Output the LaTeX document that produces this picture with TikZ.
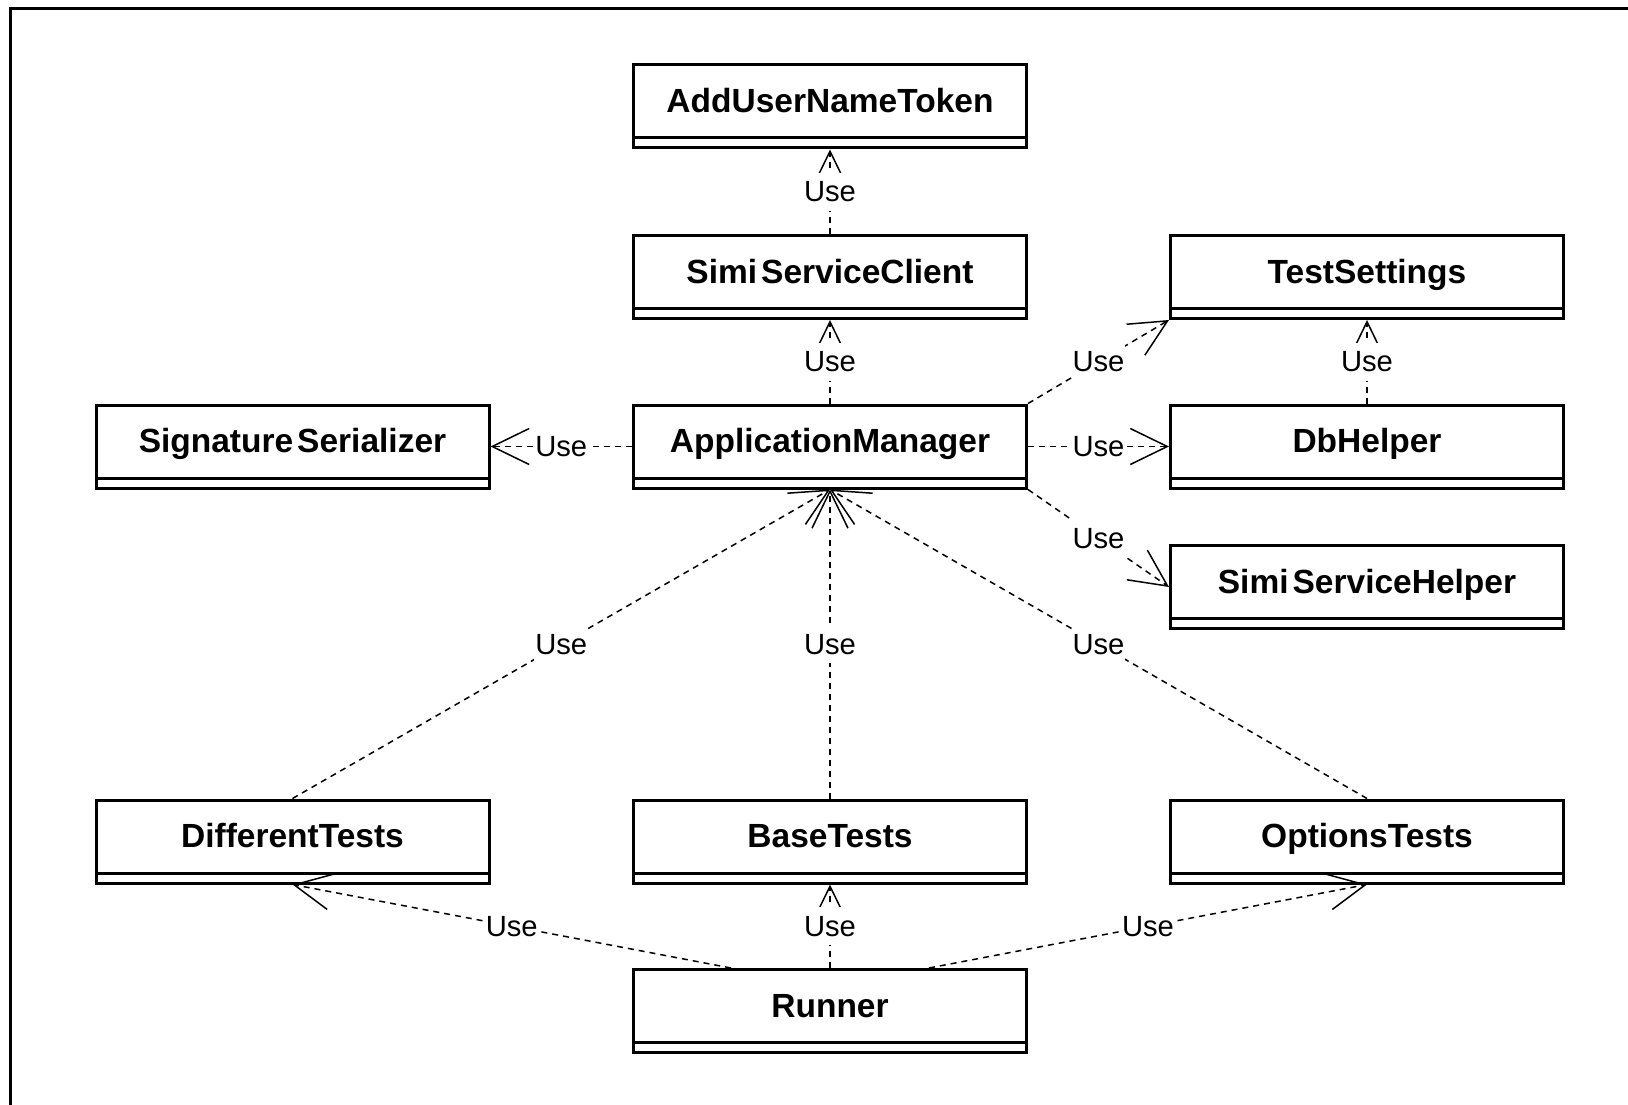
\documentclass[tikz,border=0pt]{standalone}
\usepackage{fontspec}
\setmainfont{Liberation Sans}
\usetikzlibrary{arrows.meta,calc}
\begin{document}
\begin{tikzpicture}[x=1pt,y=-1pt,
  cls/.style={draw, line width=3pt, minimum width=393pt, minimum height=83pt,
    inner sep=0pt, font=\fontsize{33.5}{40}\selectfont\bfseries,
    text height=30pt, text depth=18pt,
    path picture={\draw[line width=3pt]
      ([yshift=10pt]path picture bounding box.south west) --
      ([yshift=10pt]path picture bounding box.south east);}},
  dep/.style={draw, line width=1.5pt, dash pattern=on 6pt off 5pt,
    -{Straight Barb[length=37pt,width=36pt]}},
  use/.style={fill=white, font=\fontsize{29.2}{35}\selectfont,
    inner xsep=1pt, inner ysep=0pt, text height=29pt, text depth=9pt}
]
\useasboundingbox (0,0) rectangle (1628,1105);
\fill[white] (0,0) rectangle (1628,1105);
\draw[line width=3.3pt] (10.7,1110) -- (10.7,8.3) -- (1635,8.3);

\node[cls] (aunt)   at (830,106.5)  {AddUserNameToken};
\node[cls] (ssc)    at (830,277)    {Simi\kern0.12em ServiceClient};
\node[cls] (ts)     at (1367,277)   {TestSettings};
\node[cls] (sigser) at (292.5,446.5){Signature\kern0.12em Serializer};
\node[cls] (am)     at (830,446.5)  {ApplicationManager};
\node[cls] (db)     at (1367,446.5) {DbHelper};
\node[cls] (ssh)    at (1367,587)   {Simi\kern0.12em ServiceHelper};
\node[cls] (dt)     at (292.5,841.5){DifferentTests};
\node[cls] (bt)     at (830,841.5)  {BaseTests};
\node[cls] (ot)     at (1367,841.5) {OptionsTests};
\node[cls] (runner) at (830,1011)   {Runner};

\coordinate (rl) at ($(runner.north west)!0.25!(runner.north east)$);
\coordinate (rr) at ($(runner.north west)!0.75!(runner.north east)$);

\draw[dep] (ssc.north) -- node[use]{Use} (aunt.south);
\draw[dep] (am.north) -- node[use]{Use} (ssc.south);
\draw[dep] (am.west) -- node[use]{Use} (sigser.east);
\draw[dep] (am.north east) -- node[use]{Use} (ts.south west);
\draw[dep] (am.east) -- node[use]{Use} (db.west);
\draw[dep] (am.south east) -- node[use]{Use} (ssh.west);
\draw[dep] (db.north) -- node[use]{Use} (ts.south);
\draw[dep] (dt.north) -- node[use]{Use} (am.south);
\draw[dep] (bt.north) -- node[use]{Use} (am.south);
\draw[dep] (ot.north) -- node[use]{Use} (am.south);
\draw[dep] (rl) -- node[use]{Use} (dt.south);
\draw[dep] (runner.north) -- node[use]{Use} (bt.south);
\draw[dep] (rr) -- node[use]{Use} (ot.south);
\end{tikzpicture}
\end{document}
